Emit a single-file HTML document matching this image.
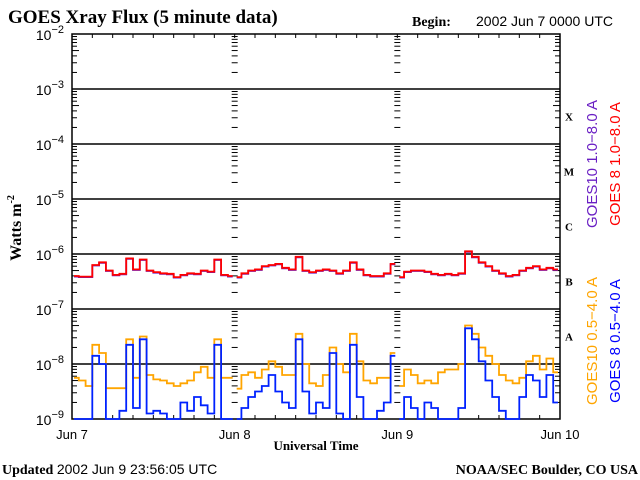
<!DOCTYPE html>
<html><head><meta charset="utf-8"><style>
html,body{margin:0;padding:0;background:#fff;}
svg{display:block;}
.ser{font-family:"Liberation Serif",serif;font-weight:bold;}
.san{font-family:"Liberation Sans",sans-serif;font-weight:normal;}
</style></head><body>
<svg id="chart" width="640" height="480" viewBox="0 0 640 480" xmlns="http://www.w3.org/2000/svg">
<text class="ser" x="8" y="23" font-size="19">GOES Xray Flux (5 minute data)</text>
<text class="ser" x="412" y="26" font-size="14">Begin:</text>
<text class="san" x="476" y="26" font-size="14">2002 Jun 7 0000 UTC</text>
<text class="ser" transform="translate(21,228) rotate(-90)" text-anchor="middle" font-size="16">Watts m<tspan font-size="10" dy="-7">-2</tspan></text>
<text class="ser" x="316" y="450" text-anchor="middle" font-size="13">Universal Time</text>
<text class="ser" x="2" y="474" font-size="14">Updated <tspan class="san">2002 Jun  9 23:56:05 UTC</tspan></text>
<text class="ser" x="638" y="474" text-anchor="end" font-size="14">NOAA/SEC Boulder, CO USA</text>
<text class="san" transform="translate(597,164) rotate(-90)" text-anchor="middle" font-size="15" fill="#6a1fc4">GOES10 1.0−8.0 A</text>
<text class="san" transform="translate(620,164) rotate(-90)" text-anchor="middle" font-size="15" fill="#ff0000">GOES 8 1.0−8.0 A</text>
<text class="san" transform="translate(597,341) rotate(-90)" text-anchor="middle" font-size="15" fill="#ffa500">GOES10 0.5−4.0 A</text>
<text class="san" transform="translate(620,341) rotate(-90)" text-anchor="middle" font-size="15" fill="#0000ff">GOES 8 0.5−4.0 A</text>
<g id="axes"></g>
<g id="series"></g>
</svg>
<script>
const days = ["Jun 7","Jun 8","Jun 9","Jun 10"];
const decades = [-2,-3,-4,-5,-6,-7,-8,-9];
const classes = ["X","M","C","B","A"];
const goes8Long = [-6.40,-6.41,-6.41,-6.2,-6.15,-6.30,-6.38,-6.36,-6.08,-6.28,-6.10,-6.30,-6.33,-6.35,-6.36,-6.42,-6.38,-6.35,-6.36,-6.30,-6.32,-6.10,-6.38,-6.40,
 -6.42,-6.35,-6.30,-6.28,-6.22,-6.20,-6.18,-6.25,-6.28,-6.05,-6.30,-6.33,-6.30,-6.28,-6.30,-6.35,-6.30,-6.15,-6.28,-6.38,-6.40,-6.40,-6.35,-6.18,
 -6.42,-6.32,-6.30,-6.30,-6.32,-6.36,-6.38,-6.36,-6.38,-6.35,-5.95,-6.05,-6.15,-6.22,-6.30,-6.35,-6.40,-6.38,-6.30,-6.25,-6.22,-6.28,-6.25,-6.28];
const goes10Short = [-8.25,-8.30,-8.40,-7.65,-7.80,-8.44,-8.44,-8.44,-7.55,-8.25,-7.50,-8.20,-8.28,-8.30,-8.35,-8.40,-8.35,-8.30,-8.15,-8.05,-8.25,-7.55,-8.25,-8.25,
 -8.45,-8.20,-8.15,-8.25,-8.10,-7.95,-8.05,-8.20,-8.20,-7.45,-8.00,-8.35,-8.40,-8.20,-7.70,-8.00,-8.15,-7.45,-7.95,-8.30,-8.35,-8.25,-8.25,-7.80,
 -8.40,-8.10,-8.20,-8.35,-8.30,-8.35,-8.15,-8.10,-8.10,-8.0,-7.30,-7.45,-7.70,-7.85,-8.00,-8.20,-8.30,-8.35,-8.25,-7.95,-7.85,-8.10,-7.90,-8.15];
const goes8Short = [-9.05,-9.05,-9.0,-7.85,-8.0,-9.0,-9.05,-8.85,-7.65,-8.8,-7.55,-8.9,-8.85,-8.9,-9.05,-9.0,-8.7,-8.85,-8.6,-8.75,-8.9,-7.65,-9.0,-9.05,
 -9.05,-8.8,-8.6,-8.5,-8.4,-8.2,-8.5,-8.7,-8.8,-7.55,-8.5,-8.9,-8.7,-8.8,-7.8,-8.9,-9.05,-7.65,-8.6,-9.0,-9.05,-8.85,-8.7,-7.85,
 -9.05,-8.6,-8.8,-9.0,-8.7,-8.8,-9.05,-9.05,-9.0,-8.8,-7.35,-7.55,-7.95,-8.3,-8.6,-8.85,-9.05,-9.0,-8.6,-8.2,-8.3,-8.6,-8.2,-8.7];

const NS="http://www.w3.org/2000/svg";
const X0=72,X1=560,Y0=34,Y1=419;
const xScale=h=>X0+(X1-X0)*h/72;
const yScale=v=>Y0+(Y1-Y0)*(-2-v)/7;
function mk(tag,attrs,parent){const e=document.createElementNS(NS,tag);for(const k in attrs)e.setAttribute(k,attrs[k]);parent.appendChild(e);return e;}
const ax=document.getElementById('axes');
let r=mk('rect',{x:X0,y:Y0,width:X1-X0,height:Y1-Y0,fill:'none',stroke:'#000','stroke-width':1.5},ax);


decades.forEach((d,i)=>{
  const y=yScale(d);
  if(i>0&&i<decades.length-1){const l=mk('line',{x1:X0,x2:X1,y1:y,y2:y,stroke:'#000','stroke-width':1.5},ax);
    
    }
  const t=mk('text',{x:X0-8,y:y+6,'text-anchor':'end','font-size':14,'font-family':'Liberation Sans, sans-serif'},ax);
  
  
  t.textContent='10';
  const s=mk('tspan',{dy:-7,'font-size':11},t);s.textContent=String(d).replace('-','−');
  if(i<decades.length-1){
    for(let m=2;m<=9;m++){
      const ym=yScale(d-1+Math.log10(m));
      const L=m%5===0?7:5;
      [[X0,L],[X1,-L]].forEach(([xx,dl])=>{mk('line',{x1:xx,x2:xx+dl,y1:ym,y2:ym,stroke:'#000'},ax);});
      [1,2].forEach(k=>{const xx=X0+(X1-X0)*k/3;mk('line',{x1:xx-3,x2:xx+3,y1:ym,y2:ym,stroke:'#000'},ax);});
    }
  }
});
classes.forEach((c,i)=>{
  const t=mk('text',{x:569,y:yScale(-3.5-i)+4,'text-anchor':'middle','font-size':11,'font-weight':'bold','font-family':'Liberation Serif, serif'},ax);
  
  
  t.textContent=c;
});
days.forEach((d,i)=>{
  const x=xScale(i*24);
  const t=mk('text',{x:x,y:439,'text-anchor':'middle','font-size':13,'font-family':'Liberation Sans, sans-serif'},ax);
  
  
  t.textContent=d;
});
for(let h=3;h<72;h+=3){const x=xScale(h);
  mk('line',{x1:x,x2:x,y1:Y0,y2:Y0+4,stroke:'#000'},ax);
  mk('line',{x1:x,x2:x,y1:Y1,y2:Y1-(h%24===0?0:4),stroke:'#000'},ax);}
const sg=document.getElementById('series');
function draw(vals,color,name){
  for(let d=0;d<3;d++){
    let p='';
    for(let h=d*24;h<d*24+24;h++){
      const y=Math.min(Y1,yScale(vals[h]));
      const xa=xScale(h)+(h%24===0?2:0), xb=xScale(h+1)-(h%24===23?2:0);
      p+=(p?'L':'M')+xa.toFixed(1)+' '+y.toFixed(1)+'L'+xb.toFixed(1)+' '+y.toFixed(1);
    }
    const e=mk('path',{d:p,fill:'none',stroke:color,'stroke-width':1.8},sg);
    
    
  }
}
draw(goes10Short,'#ffa500','goes10-short-line');
draw(goes8Short,'#0022ff','goes8-short-line');
draw(goes8Long.map(v=>v-0.01),'#6a1fc4','goes10-long-line');
draw(goes8Long,'#ff0000','goes8-long-line');
</script>
</body></html>
